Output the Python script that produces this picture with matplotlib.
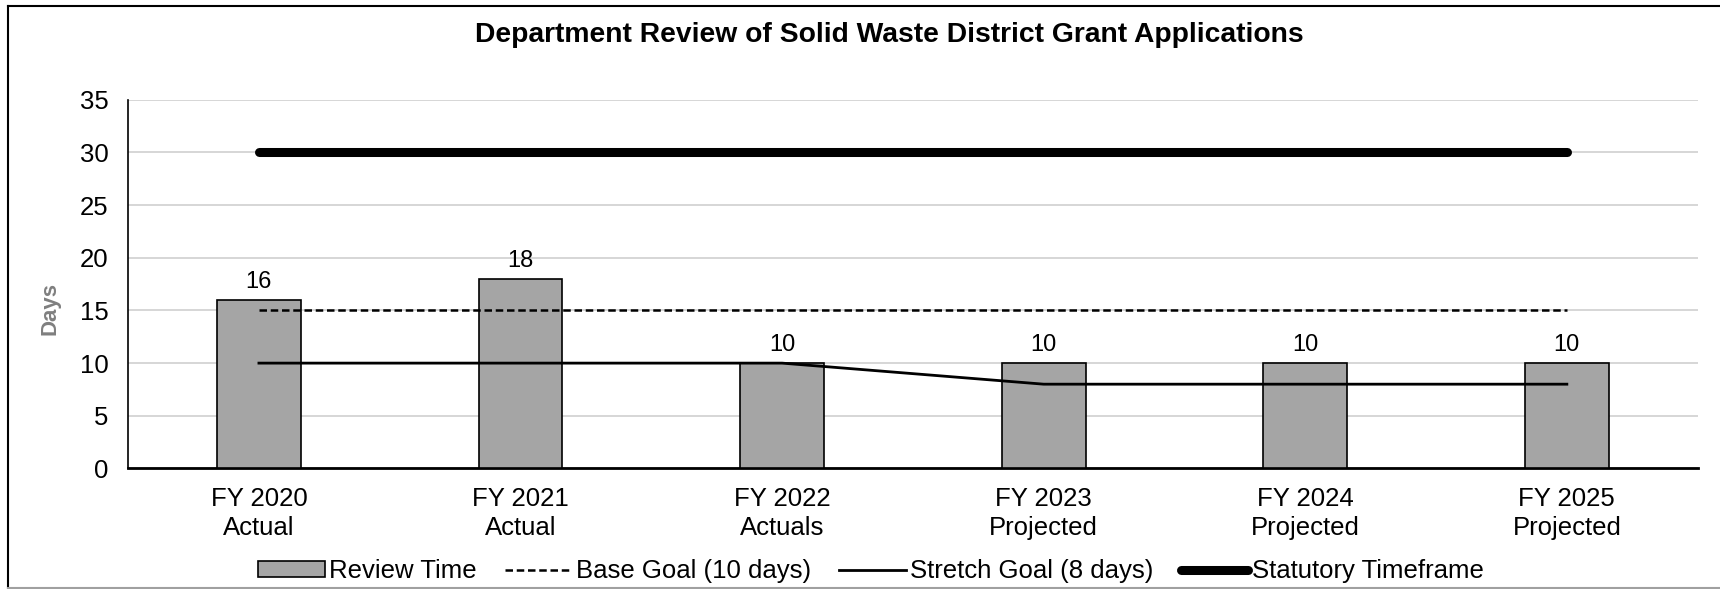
import numpy as np
import matplotlib
matplotlib.use("Agg")
import matplotlib.pyplot as plt
from matplotlib.patches import Patch
from matplotlib.lines import Line2D

plt.rcParams["font.family"] = ["Liberation Sans", "DejaVu Sans"]

# --------------------------------------------------------------------------- #
#  Data                                                                        #
# --------------------------------------------------------------------------- #

categories  = ["FY 2020\nActual", "FY 2021\nActual", "FY 2022\nActuals",
               "FY 2023\nProjected", "FY 2024\nProjected", "FY 2025\nProjected"]
review_time = [16, 18, 10, 10, 10, 10]
base_goal   = [15, 15, 15, 15, 15, 15]
stretch     = [10, 10, 10, 8, 8, 8]
statutory   = [30, 30, 30, 30, 30, 30]

FS = 18.5

# --------------------------------------------------------------------------- #
#  Figure                                                                      #
# --------------------------------------------------------------------------- #

fig = plt.figure(figsize=(17.2, 5.89), dpi=100)
ax = fig.add_axes([0.0745, 0.2047, 0.9125, 0.6258])

x = np.arange(len(categories))
ax.bar(x, review_time, width=0.32, color="#A5A5A5", edgecolor="black",
       linewidth=1.2, zorder=3)
for xi, v in zip(x, review_time):
    ax.annotate(str(v), (xi, v), xytext=(0, 5), textcoords="offset points",
                ha="center", va="bottom", fontsize=17)

ax.plot(x, base_goal, color="black", lw=1.8, ls=(0, (3, 1.5)), zorder=4)
ax.plot(x, stretch, color="black", lw=2.0, zorder=4)
ax.plot(x, statutory, color="black", lw=6.5, solid_capstyle="round", zorder=4)

ax.set_xlim(-0.5, len(categories) - 0.5)
ax.set_ylim(0, 35)
ax.set_yticks(range(0, 36, 5))
ax.set_xticks(x)
ax.set_xticklabels(categories, fontsize=FS, linespacing=1.25)
ax.tick_params(axis="y", length=0, pad=14, labelsize=FS)
ax.tick_params(axis="x", length=0, pad=13.5)
ax.grid(axis="y", color="#D0D0D0", lw=1.2, zorder=0)
ax.set_axisbelow(True)

for s in ["top", "right"]:
    ax.spines[s].set_visible(False)
ax.spines["left"].set_color("black")
ax.spines["left"].set_linewidth(1.2)
ax.spines["bottom"].set_color("black")
ax.spines["bottom"].set_linewidth(2)

fig.text(0.029, 1 - 308 / 589, "Days", rotation=90, ha="center", va="center",
         fontsize=16, fontweight="bold", color="#7F7F7F")
fig.text(0.517, 0.94, "Department Review of Solid Waste District Grant Applications",
         ha="center", va="center", fontsize=20.3, fontweight="bold")

handles = [
    Patch(facecolor="#A5A5A5", edgecolor="black", linewidth=1.2),
    Line2D([], [], color="black", lw=1.8, ls=(0, (3, 1.5))),
    Line2D([], [], color="black", lw=2.0),
    Line2D([], [], color="black", lw=6.5, solid_capstyle="round"),
]
labels = ["Review Time", "Base Goal (10 days)", "Stretch Goal (8 days)",
          "Statutory Timeframe"]
fig.legend(handles, labels, loc="center", bbox_to_anchor=(0.5065, 0.030),
           ncol=4, frameon=False, fontsize=FS, handlelength=2.6,
           handleheight=0.6, handletextpad=0.15, columnspacing=1.1)

# outer chart frame
fig.add_artist(Line2D([8 / 1720, 1], [1 - 6 / 589, 1 - 6 / 589],
                      transform=fig.transFigure, color="black", lw=1.5))
fig.add_artist(Line2D([8 / 1720, 8 / 1720], [1 - 6 / 589, 1 / 589],
                      transform=fig.transFigure, color="black", lw=1.5))
fig.add_artist(Line2D([8 / 1720, 1], [1 / 589, 1 / 589],
                      transform=fig.transFigure, color="#A0A0A0", lw=1.5))

fig.savefig("out.png", dpi=100)
